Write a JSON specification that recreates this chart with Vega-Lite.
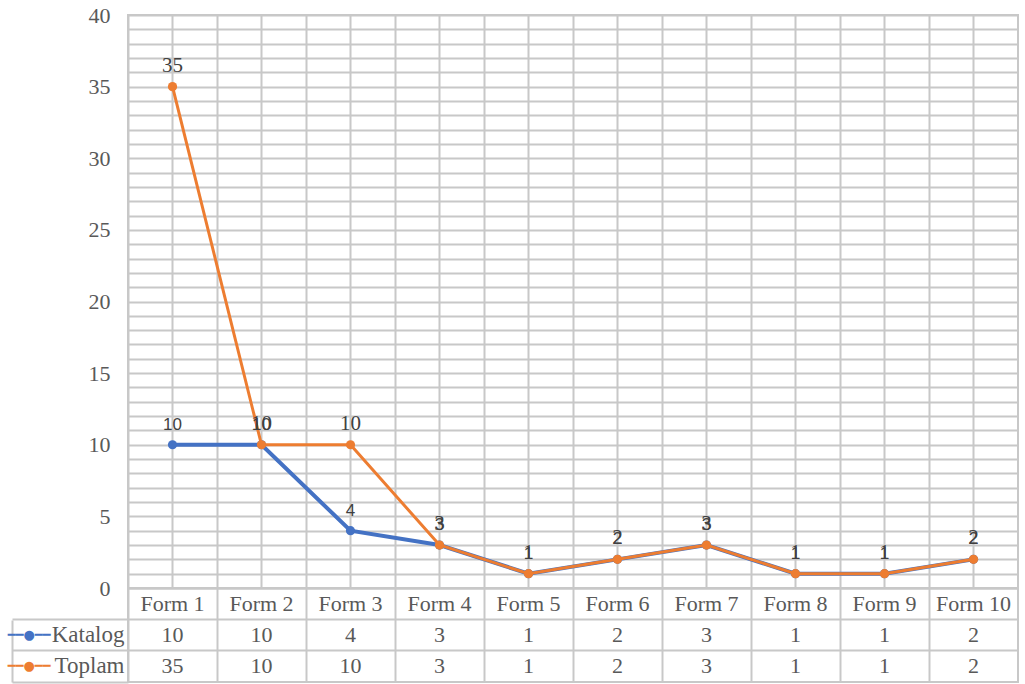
{
  "$schema": "https://vega.github.io/schema/vega-lite/v6.json",
  "padding": {"left": 6, "top": 3, "right": 5, "bottom": 0},
  "background": "white",
  "data": {"values": [
    {"form": "Form 1", "series": "Katalog", "value": 10},
    {"form": "Form 2", "series": "Katalog", "value": 10},
    {"form": "Form 3", "series": "Katalog", "value": 4},
    {"form": "Form 4", "series": "Katalog", "value": 3},
    {"form": "Form 5", "series": "Katalog", "value": 1},
    {"form": "Form 6", "series": "Katalog", "value": 2},
    {"form": "Form 7", "series": "Katalog", "value": 3},
    {"form": "Form 8", "series": "Katalog", "value": 1},
    {"form": "Form 9", "series": "Katalog", "value": 1},
    {"form": "Form 10", "series": "Katalog", "value": 2},
    {"form": "Form 1", "series": "Toplam", "value": 35},
    {"form": "Form 2", "series": "Toplam", "value": 10},
    {"form": "Form 3", "series": "Toplam", "value": 10},
    {"form": "Form 4", "series": "Toplam", "value": 3},
    {"form": "Form 5", "series": "Toplam", "value": 1},
    {"form": "Form 6", "series": "Toplam", "value": 2},
    {"form": "Form 7", "series": "Toplam", "value": 3},
    {"form": "Form 8", "series": "Toplam", "value": 1},
    {"form": "Form 9", "series": "Toplam", "value": 1},
    {"form": "Form 10", "series": "Toplam", "value": 2}
  ]},
  "spacing": 0,
  "bounds": "flush",
  "vconcat": [
    {
      "width": 890,
      "height": 573,
      "encoding": {
        "x": {
          "field": "form", "type": "nominal", "sort": null,
          "scale": {"type": "band", "domain": ["Form 1","Form 2","Form 3","Form 4","Form 5","Form 6","Form 7","Form 8","Form 9","Form 10"], "paddingInner": 0, "paddingOuter": 0},
          "axis": {"title": null, "labels": false, "ticks": false, "domain": true, "domainColor": "#c8c8c8", "domainWidth": 2, "grid": true, "gridColor": "#c8c8c8", "gridWidth": 2, "bandPosition": 0}
        },
        "y": {
          "field": "value", "type": "quantitative",
          "scale": {"domain": [0, 40], "nice": false, "zero": true},
          "axis": {"title": null, "values": [0,1,2,3,4,5,6,7,8,9,10,11,12,13,14,15,16,17,18,19,20,21,22,23,24,25,26,27,28,29,30,31,32,33,34,35,36,37,38,39,40], "labelExpr": "datum.value % 5 === 0 ? datum.label : ''", "labelOverlap": false, "ticks": false, "domain": false, "grid": true, "gridColor": "#c8c8c8", "gridWidth": 2, "labelFont": "Liberation Serif", "labelFontSize": 22, "labelColor": "#595959", "labelPadding": 18}
        }
      },
      "layer": [
        {
          "transform": [{"filter": "datum.series === 'Katalog'"}],
          "mark": {"type": "rule", "color": "#c8c8c8", "strokeWidth": 2},
          "encoding": {
            "y": {"datum": 0, "type": "quantitative"},
            "y2": {"datum": 40}
          }
        },
        {
          "transform": [{"filter": "datum.series === 'Katalog'"}],
          "mark": {"type": "line", "color": "#4472C4", "strokeWidth": 4}
        },
        {
          "transform": [{"filter": "datum.series === 'Katalog'"}],
          "mark": {"type": "point", "filled": true, "opacity": 1, "color": "#4472C4", "size": 85}
        },
        {
          "transform": [{"filter": "datum.series === 'Toplam'"}],
          "mark": {"type": "line", "color": "#ED7D31", "strokeWidth": 3}
        },
        {
          "transform": [{"filter": "datum.series === 'Toplam'"}],
          "mark": {"type": "point", "filled": true, "opacity": 1, "color": "#ED7D31", "size": 85}
        },
        {
          "transform": [{"filter": "datum.series === 'Katalog'"}],
          "mark": {"type": "text", "font": "Liberation Sans", "fontSize": 17, "color": "#404040", "baseline": "alphabetic", "dy": -15},
          "encoding": {"text": {"field": "value", "type": "quantitative"}}
        },
        {
          "transform": [{"filter": "datum.series === 'Toplam'"}],
          "mark": {"type": "text", "font": "Liberation Serif", "fontSize": 21, "color": "#404040", "baseline": "alphabetic", "dy": -15},
          "encoding": {"text": {"field": "value", "type": "quantitative"}}
        }
      ]
    },
    {
      "width": 890,
      "height": 94,
      "encoding": {
        "x": {
          "field": "form", "type": "nominal", "sort": null,
          "scale": {"type": "band", "domain": ["Form 1","Form 2","Form 3","Form 4","Form 5","Form 6","Form 7","Form 8","Form 9","Form 10"], "paddingInner": 0, "paddingOuter": 0},
          "axis": {"title": null, "labels": false, "ticks": false, "domain": false, "grid": true, "gridColor": "#c8c8c8", "gridWidth": 2, "bandPosition": 0}
        }
      },
      "layer": [
        {
          "transform": [{"filter": "datum.series === 'Katalog'"}],
          "mark": {"type": "text", "font": "Liberation Serif", "fontSize": 22, "color": "#595959"},
          "encoding": {
            "y": {"datum": "Form", "type": "nominal", "scale": {"type": "band", "domain": ["Form", "Katalog", "Toplam"], "paddingInner": 0, "paddingOuter": 0}, "axis": null},
            "text": {"field": "form", "type": "nominal"}
          }
        },
        {
          "mark": {"type": "text", "font": "Liberation Serif", "fontSize": 22, "color": "#595959"},
          "encoding": {
            "y": {"field": "series", "type": "nominal", "axis": {"title": null, "orient": "left", "values": ["Katalog", "Toplam"], "bandPosition": 0, "labels": false, "domain": false, "ticks": true, "tickSize": 116, "tickColor": "#c8c8c8", "tickWidth": 2, "grid": true, "gridColor": "#c8c8c8", "gridWidth": 2}},
            "text": {"field": "value", "type": "quantitative"}
          }
        },
        {
          "mark": {"type": "text", "text": ""},
          "encoding": {
            "y": {"field": "series", "type": "nominal", "axis": {"title": null, "orient": "left", "values": ["Toplam"], "bandPosition": 1, "labels": false, "domain": false, "ticks": true, "tickSize": 116, "tickColor": "#c8c8c8", "tickWidth": 2, "grid": false}}
          }
        },
        {
          "mark": {"type": "text", "text": ""},
          "encoding": {
            "y": {"field": "series", "type": "nominal", "axis": {"title": null, "orient": "left", "offset": 116, "values": ["Katalog", "Toplam"], "labels": false, "domain": true, "domainColor": "#c8c8c8", "domainWidth": 2, "domainDash": [0, 32, 62, 0], "ticks": false, "grid": false}}
          }
        },
        {
          "mark": {"type": "text", "text": ""},
          "encoding": {
            "y": {"field": "series", "type": "nominal", "axis": {"title": null, "orient": "left", "values": ["Katalog", "Toplam"], "labels": true, "domain": false, "ticks": false, "tickSize": 0, "grid": false, "labelPadding": 4, "labelFont": "Liberation Serif", "labelFontSize": 23, "labelColor": "#595959"}}
          }
        },
        {
          "mark": {"type": "text", "text": ""},
          "encoding": {
            "y": {"field": "series", "type": "nominal", "axis": {"title": null, "orient": "left", "values": ["Katalog", "Toplam"], "labels": true, "labelExpr": "'━━●━━'", "domain": false, "ticks": false, "tickSize": 0, "grid": false, "labelPadding": 78, "labelFont": "DejaVu Sans", "labelFontSize": 13, "labelColor": {"condition": {"test": "datum.value === 'Katalog'", "value": "#4472C4"}, "value": "#ED7D31"}}}
          }
        }
      ],
      "resolve": {"axis": {"y": "independent"}}
    }
  ],
  "config": {
    "view": {"stroke": "#c8c8c8", "strokeWidth": 2},
    "axis": {"labelBound": false}
  }
}
